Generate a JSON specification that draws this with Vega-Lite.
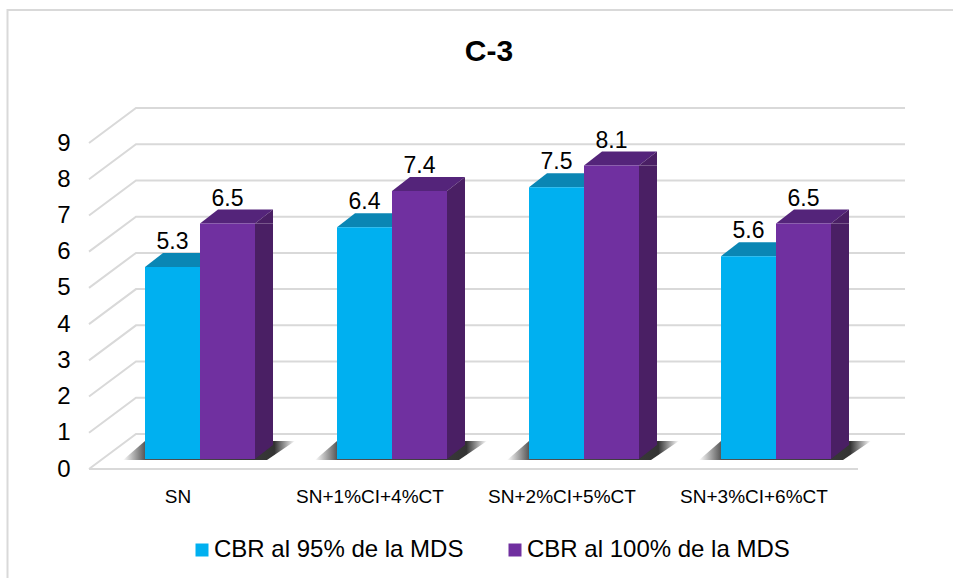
{
"$schema":"https://vega.github.io/schema/vega-lite/v6.json",
"width":816,"height":326,
"autosize":{"type":"none"},
"padding":{"left":89,"top":143,"right":48,"bottom":109},
"background":"#ffffff",
"title":{"text":"C-3","font":"Liberation Sans","fontSize":30,"fontWeight":"bold","color":"#000000","anchor":"middle","frame":"group","dx":-8,"offset":0,"dy":61},
"config":{"view":{"stroke":null},"font":"Liberation Sans",
 "axisY":{"grid":false,"domain":false,"ticks":false,"labelOverlap":false,"labelFont":"Liberation Sans","labelFontSize":24,"labelColor":"#000000","labelPadding":19,"labelBaseline":"middle","tickCount":10}},
"datasets":{
"bars":[
{"cat":"SN","serie":"CBR al 95% de la MDS","v":5.3},
{"cat":"SN","serie":"CBR al 100% de la MDS","v":6.5},
{"cat":"SN+1%CI+4%CT","serie":"CBR al 95% de la MDS","v":6.4},
{"cat":"SN+1%CI+4%CT","serie":"CBR al 100% de la MDS","v":7.4},
{"cat":"SN+2%CI+5%CT","serie":"CBR al 95% de la MDS","v":7.5},
{"cat":"SN+2%CI+5%CT","serie":"CBR al 100% de la MDS","v":8.1},
{"cat":"SN+3%CI+6%CT","serie":"CBR al 95% de la MDS","v":5.6},
{"cat":"SN+3%CI+6%CT","serie":"CBR al 100% de la MDS","v":6.5}],
"grid":[{"g":0},{"g":1},{"g":2},{"g":3},{"g":4},{"g":5},{"g":6},{"g":7},{"g":8},{"g":9}]
},
"data":{"name":"bars"},
"layer":[
{"data":{"values":[{"f":1}]},
 "mark":{"type":"point","shape":"M-489.5,275L-489.5,-296L460,-296","size":4,"fill":"transparent","stroke":"#D9D9D9","strokeWidth":2,"opacity":1}},
{"data":{"name":"grid"},
 "mark":{"type":"point","shape":"M-408,0L-361,-35L408,-35","size":4,"fill":"transparent","stroke":"#D9D9D9","strokeWidth":2,"opacity":1},
 "encoding":{"y":{"field":"g","type":"quantitative","scale":{"domain":[0,9],"nice":false,"zero":true},"title":null}}},
{"data":{"values":[{"g":0}]},
 "mark":{"type":"point","shape":"M-408,0L361,0","size":4,"fill":"transparent","stroke":"#D9D9D9","strokeWidth":2,"opacity":1},
 "encoding":{"y":{"field":"g","type":"quantitative","title":null}}},
{"transform":[{"aggregate":[{"op":"count","as":"n"}],"groupby":["cat"]}],
 "mark":{"type":"point","shape":"M-77,-9L-55,-28L95,-28L67,-9Z","size":4,"strokeWidth":0,"opacity":1,"filled":true,
   "fill":{"gradient":"linear","x1":0,"x2":1,"y1":0,"y2":0,"stops":[{"offset":0,"color":"#ffffff"},{"offset":0.13,"color":"#555555"},{"offset":0.88,"color":"#333333"},{"offset":1,"color":"#ffffff"}]}},
 "encoding":{
   "x":{"field":"cat","type":"nominal"},
   "y":{"datum":0,"type":"quantitative","title":null}}},
{"mark":{"type":"point","shape":"M-27.5,-10L27.5,-10L45.5,-24L-9.5,-24Z","size":4,"opacity":1,"filled":true,"strokeWidth":0},
 "encoding":{
   "x":{"field":"cat","type":"nominal"},
   "xOffset":{"field":"serie","type":"nominal","sort":["CBR al 95% de la MDS","CBR al 100% de la MDS"]},
   "y":{"field":"v","type":"quantitative","title":null},
   "fill":{"condition":{"test":"datum.serie==='CBR al 95% de la MDS'","value":"#0A86B4"},"value":"#54247A"}}},
{"transform":[{"filter":"datum.serie==='CBR al 100% de la MDS'"}],
 "mark":{"type":"bar","size":18,"xOffset":64,"yOffset":-10,"y2Offset":-24,"color":"#4A1F64"},
 "encoding":{
   "x":{"field":"cat","type":"nominal"},
   "y":{"field":"v","type":"quantitative","stack":null,"title":null},
   "y2":{"datum":0}}},
{"transform":[{"filter":"datum.serie==='CBR al 100% de la MDS'"}],
 "mark":{"type":"point","shape":"M27.5,-10L45.5,-24L45.5,-10Z","size":4,"opacity":1,"filled":true,"strokeWidth":0,"fill":"#4A1F64"},
 "encoding":{
   "x":{"field":"cat","type":"nominal"},
   "xOffset":{"field":"serie","type":"nominal","sort":["CBR al 95% de la MDS","CBR al 100% de la MDS"]},
   "y":{"field":"v","type":"quantitative","title":null}}},
{"transform":[{"filter":"datum.serie==='CBR al 100% de la MDS'"}],
 "mark":{"type":"point","shape":"M27.5,-10L45.5,-24L27.5,-24Z","size":4,"opacity":1,"filled":true,"strokeWidth":0,"fill":"#4A1F64"},
 "encoding":{
   "x":{"field":"cat","type":"nominal"},
   "xOffset":{"field":"serie","type":"nominal","sort":["CBR al 95% de la MDS","CBR al 100% de la MDS"]},
   "y":{"datum":0,"type":"quantitative","title":null}}},
{"mark":{"type":"bar","yOffset":-10,"y2Offset":-10},
 "encoding":{
   "x":{"field":"cat","type":"nominal","sort":null,
     "scale":{"type":"band","range":[15,783],"paddingInner":0,"paddingOuter":0},
     "axis":{"title":null,"domain":false,"ticks":false,"labelAngle":0,"labelAlign":"center","labelOffset":-22,"labelPadding":27,"labelFont":"Liberation Sans","labelFontSize":19,"labelColor":"#000000","labelLimit":300}},
   "xOffset":{"field":"serie","type":"nominal","sort":["CBR al 95% de la MDS","CBR al 100% de la MDS"],
     "scale":{"type":"band","range":[41,151],"paddingInner":0,"paddingOuter":0}},
   "y":{"field":"v","type":"quantitative","stack":null,"title":null},
   "y2":{"datum":0},
   "color":{"field":"serie","type":"nominal","sort":["CBR al 95% de la MDS","CBR al 100% de la MDS"],
     "scale":{"domain":["CBR al 95% de la MDS","CBR al 100% de la MDS"],"range":["#00B0F0","#7030A0"]},
     "legend":{"title":null,"orient":"none","legendX":101,"legendY":395,"direction":"horizontal","symbolType":"square","symbolSize":169,"symbolStrokeWidth":0,"labelFont":"Liberation Sans","labelFontSize":24,"labelColor":"#000000","labelOffset":0,"columnPadding":39,"labelLimit":400,"padding":0}}}},
{"mark":{"type":"text","dy":-28,"baseline":"alphabetic","align":"center","font":"Liberation Sans","fontSize":23,"color":"#000000"},
 "encoding":{
   "x":{"field":"cat","type":"nominal"},
   "xOffset":{"field":"serie","type":"nominal","sort":["CBR al 95% de la MDS","CBR al 100% de la MDS"]},
   "y":{"field":"v","type":"quantitative","title":null},
   "text":{"field":"v","type":"quantitative","format":".1f"}}}
]
}
